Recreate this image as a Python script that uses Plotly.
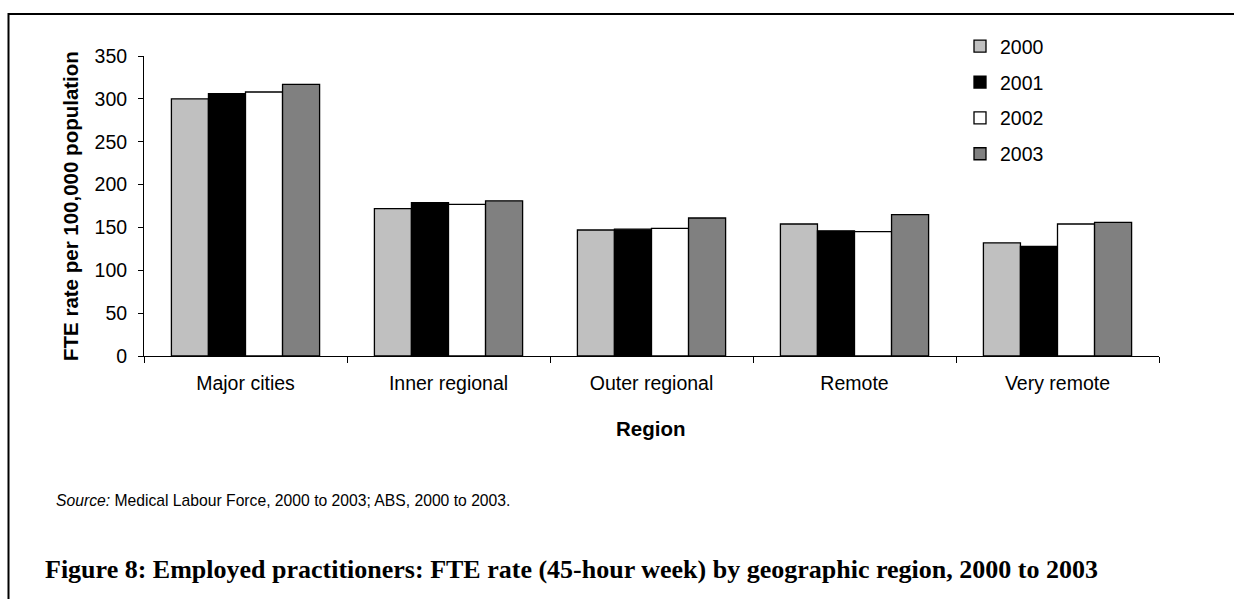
import plotly.graph_objects as go

regions = ["Major cities", "Inner regional", "Outer regional", "Remote", "Very remote"]
years = ["2000", "2001", "2002", "2003"]
v2000 = [300, 172, 147, 154, 132]
v2001 = [306, 179, 148, 146, 128]
v2002 = [308, 177, 149, 145, 154]
v2003 = [317, 181, 161, 165, 156]
series = [v2000, v2001, v2002, v2003]
colors = ["#C0C0C0", "#000000", "#FFFFFF", "#808080"]

fig = go.Figure()
for yr, vals, col in zip(years, series, colors):
    fig.add_trace(go.Bar(
        x=regions, y=vals, name=yr, legendgroup=yr,
        marker=dict(color=col, line=dict(color="#000000", width=1.3)),
    ))

W, H = 1234, 599
L, R, T, B = 144, 75, 56, 243
pw, ph = W - L - R, H - T - B

def px(x):
    return (x - L) / pw

def py(y):
    return (H - B - y) / ph

fig.update_layout(
    width=W, height=H,
    margin=dict(l=L, r=R, t=T, b=B, pad=0),
    paper_bgcolor="white", plot_bgcolor="white",
    barmode="group", bargap=0.27, bargroupgap=0,
    font=dict(family="Liberation Sans, Arial, sans-serif", size=19.5, color="#000000"),
    showlegend=True,
    legend=dict(
        x=px(960), y=py(27), xanchor="left", yanchor="top",
        bgcolor="rgba(0,0,0,0)", font=dict(size=19.5),
        tracegroupgap=7.5, itemwidth=30,
    ),
    xaxis=dict(
        showline=True, linecolor="#000000", linewidth=1,
        ticks="outside", tickson="boundaries", ticklen=6, tickcolor="#000000",
        showgrid=False, zeroline=False, ticklabelstandoff=10,
        tickfont=dict(size=19.5),
    ),
    yaxis=dict(
        range=[0, 350], dtick=50, tick0=0,
        showline=True, linecolor="#000000", linewidth=1,
        ticks="outside", ticklen=5, tickcolor="#000000",
        showgrid=False, zeroline=False, ticklabelstandoff=7,
        tickfont=dict(size=19.5),
    ),
)

# Frame around the whole figure
fig.add_shape(type="rect", xref="paper", yref="paper",
              x0=px(8.5), x1=px(1245), y0=py(640), y1=py(14),
              line=dict(color="#000000", width=2), fillcolor="rgba(0,0,0,0)", layer="below")

ann = [
    dict(x=px(70), y=0.5, text="<b>FTE rate per 100,000 population</b>", textangle=-90,
         xanchor="center", yanchor="middle", font=dict(size=20.5)),
    dict(x=px(650), y=py(428), text="<b>Region</b>", xanchor="center", yanchor="middle",
         font=dict(size=20.5)),
    dict(x=px(54), y=py(500), text="<i>Source:</i> Medical Labour Force, 2000 to 2003; ABS, 2000 to 2003.",
         xanchor="left", yanchor="middle", font=dict(size=15.7)),
    dict(x=px(43), y=py(569),
         text="<b>Figure 8: Employed practitioners: FTE rate (45-hour week) by geographic region, 2000 to 2003</b>",
         xanchor="left", yanchor="middle",
         font=dict(family="Liberation Serif, serif", size=26)),
]
for a in ann:
    fig.add_annotation(xref="paper", yref="paper", showarrow=False, **a)

fig.write_html(
    "out.html",
    config={"displayModeBar": False},
    post_script="document.body.style.margin='0px';document.body.style.overflow='hidden';",
)
